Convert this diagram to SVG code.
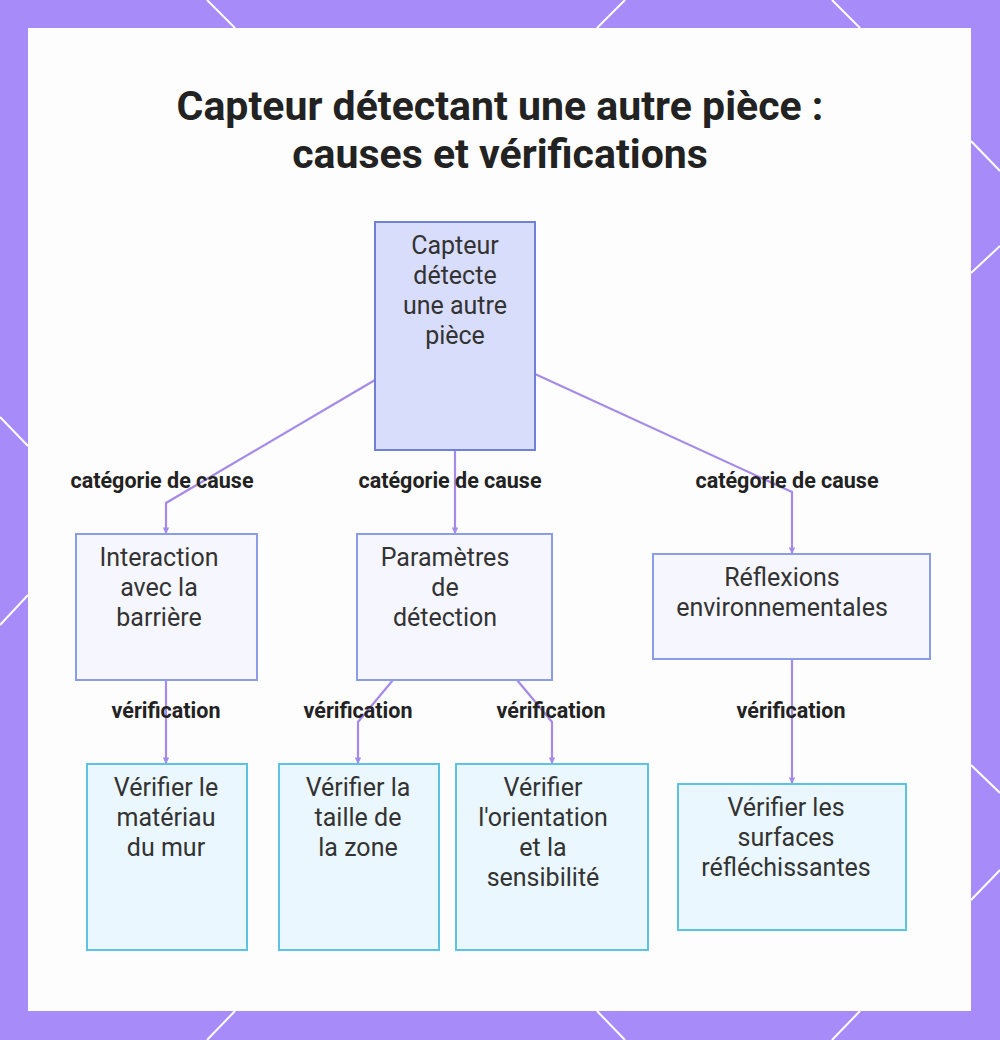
<svg xmlns="http://www.w3.org/2000/svg" width="1000" height="1040" viewBox="0 0 1000 1040">
<style>
.title{font-family:Roboto,"Liberation Sans",sans-serif;font-weight:700;font-size:41px;fill:#222;text-anchor:middle}
.nt{font-family:Roboto,"Liberation Sans",sans-serif;font-size:25px;fill:#333;text-anchor:middle}
.lbl{font-family:Roboto,"Liberation Sans",sans-serif;font-weight:700;font-size:21.5px;fill:#222;text-anchor:middle}
.root{fill:#d9ddfc;stroke:#6f80d6;stroke-width:2}
.cat{fill:#f5f6fe;stroke:#8b9de6;stroke-width:2}
.leaf{fill:#ebf7fe;stroke:#5ec3e2;stroke-width:2}
.edge{fill:none;stroke:#a68ae8;stroke-width:2.2;marker-end:url(#arr)}
.deco{stroke:#ffffff;stroke-width:2;fill:none}
</style>
<defs>
<marker id="arr" viewBox="0 0 10 10" refX="10" refY="5" markerWidth="3" markerHeight="3" orient="auto">
<path d="M0,0 L10,5 L0,10 z" fill="#a68ae8"/>
</marker>
</defs>
<rect x="0" y="0" width="1000" height="1040" fill="#a78bf8"/>
<g class="deco">
<line x1="207" y1="0" x2="235" y2="28"/>
<line x1="625" y1="0" x2="597" y2="28"/>
<line x1="832" y1="0" x2="860" y2="28"/>
<line x1="235" y1="1011" x2="207" y2="1040"/>
<line x1="597" y1="1011" x2="625" y2="1040"/>
<line x1="860" y1="1011" x2="832" y2="1040"/>
<line x1="0" y1="417" x2="28" y2="446"/>
<line x1="28" y1="595" x2="0" y2="625"/>
<line x1="971" y1="141" x2="1000" y2="171"/>
<line x1="971" y1="273" x2="1000" y2="246"/>
<line x1="971" y1="765" x2="1000" y2="793"/>
<line x1="971" y1="900" x2="1000" y2="870"/>
</g>
<rect x="28" y="28" width="943" height="983" fill="#fdfdfd"/>
<text class="title" x="500" y="120">Capteur détectant une autre pièce :</text>
<text class="title" x="500" y="168">causes et vérifications</text>
<g id="connectors">
<polyline class="edge" points="375,380 166,503 166,534"/>
<polyline class="edge" points="455,450 455,534"/>
<polyline class="edge" points="535,374 792,492 792,554"/>
<polyline class="edge" points="166,680 166,764"/>
<polyline class="edge" points="393,680 358,722 358,764"/>
<polyline class="edge" points="517,680 552,722 552,764"/>
<polyline class="edge" points="792,659 792,784"/>
<text class="lbl" x="162" y="488">catégorie de cause</text>
<text class="lbl" x="450" y="488">catégorie de cause</text>
<text class="lbl" x="787" y="488">catégorie de cause</text>
<text class="lbl" x="166" y="718">vérification</text>
<text class="lbl" x="358" y="718">vérification</text>
<text class="lbl" x="551" y="718">vérification</text>
<text class="lbl" x="791" y="718">vérification</text>
</g>
<g id="root">
<rect class="root" x="375" y="222" width="160" height="228"/>
<text class="nt" x="455" y="254">Capteur</text>
<text class="nt" x="455" y="284">détecte</text>
<text class="nt" x="455" y="314">une autre</text>
<text class="nt" x="455" y="344">pièce</text>
</g>
<g id="interaction">
<rect class="cat" x="76" y="534" width="181" height="146"/>
<text class="nt" x="159" y="566">Interaction</text>
<text class="nt" x="159" y="596">avec la</text>
<text class="nt" x="159" y="626">barrière</text>
</g>
<g id="parametres">
<rect class="cat" x="357" y="534" width="195" height="146"/>
<text class="nt" x="445" y="566">Paramètres</text>
<text class="nt" x="445" y="596">de</text>
<text class="nt" x="445" y="626">détection</text>
</g>
<g id="reflexions">
<rect class="cat" x="653" y="554" width="277" height="105"/>
<text class="nt" x="782" y="586">Réflexions</text>
<text class="nt" x="782" y="616">environnementales</text>
</g>
<g id="leaf-materiau">
<rect class="leaf" x="87" y="764" width="160" height="186"/>
<text class="nt" x="166" y="796">Vérifier le</text>
<text class="nt" x="166" y="826">matériau</text>
<text class="nt" x="166" y="856">du mur</text>
</g>
<g id="leaf-taille">
<rect class="leaf" x="279" y="764" width="160" height="186"/>
<text class="nt" x="358" y="796">Vérifier la</text>
<text class="nt" x="358" y="826">taille de</text>
<text class="nt" x="358" y="856">la zone</text>
</g>
<g id="leaf-orientation">
<rect class="leaf" x="456" y="764" width="192" height="186"/>
<text class="nt" x="543" y="796">Vérifier</text>
<text class="nt" x="543" y="826">l'orientation</text>
<text class="nt" x="543" y="856">et la</text>
<text class="nt" x="543" y="886">sensibilité</text>
</g>
<g id="leaf-surfaces">
<rect class="leaf" x="678" y="784" width="228" height="146"/>
<text class="nt" x="786" y="816">Vérifier les</text>
<text class="nt" x="786" y="846">surfaces</text>
<text class="nt" x="786" y="876">réfléchissantes</text>
</g>
</svg>
